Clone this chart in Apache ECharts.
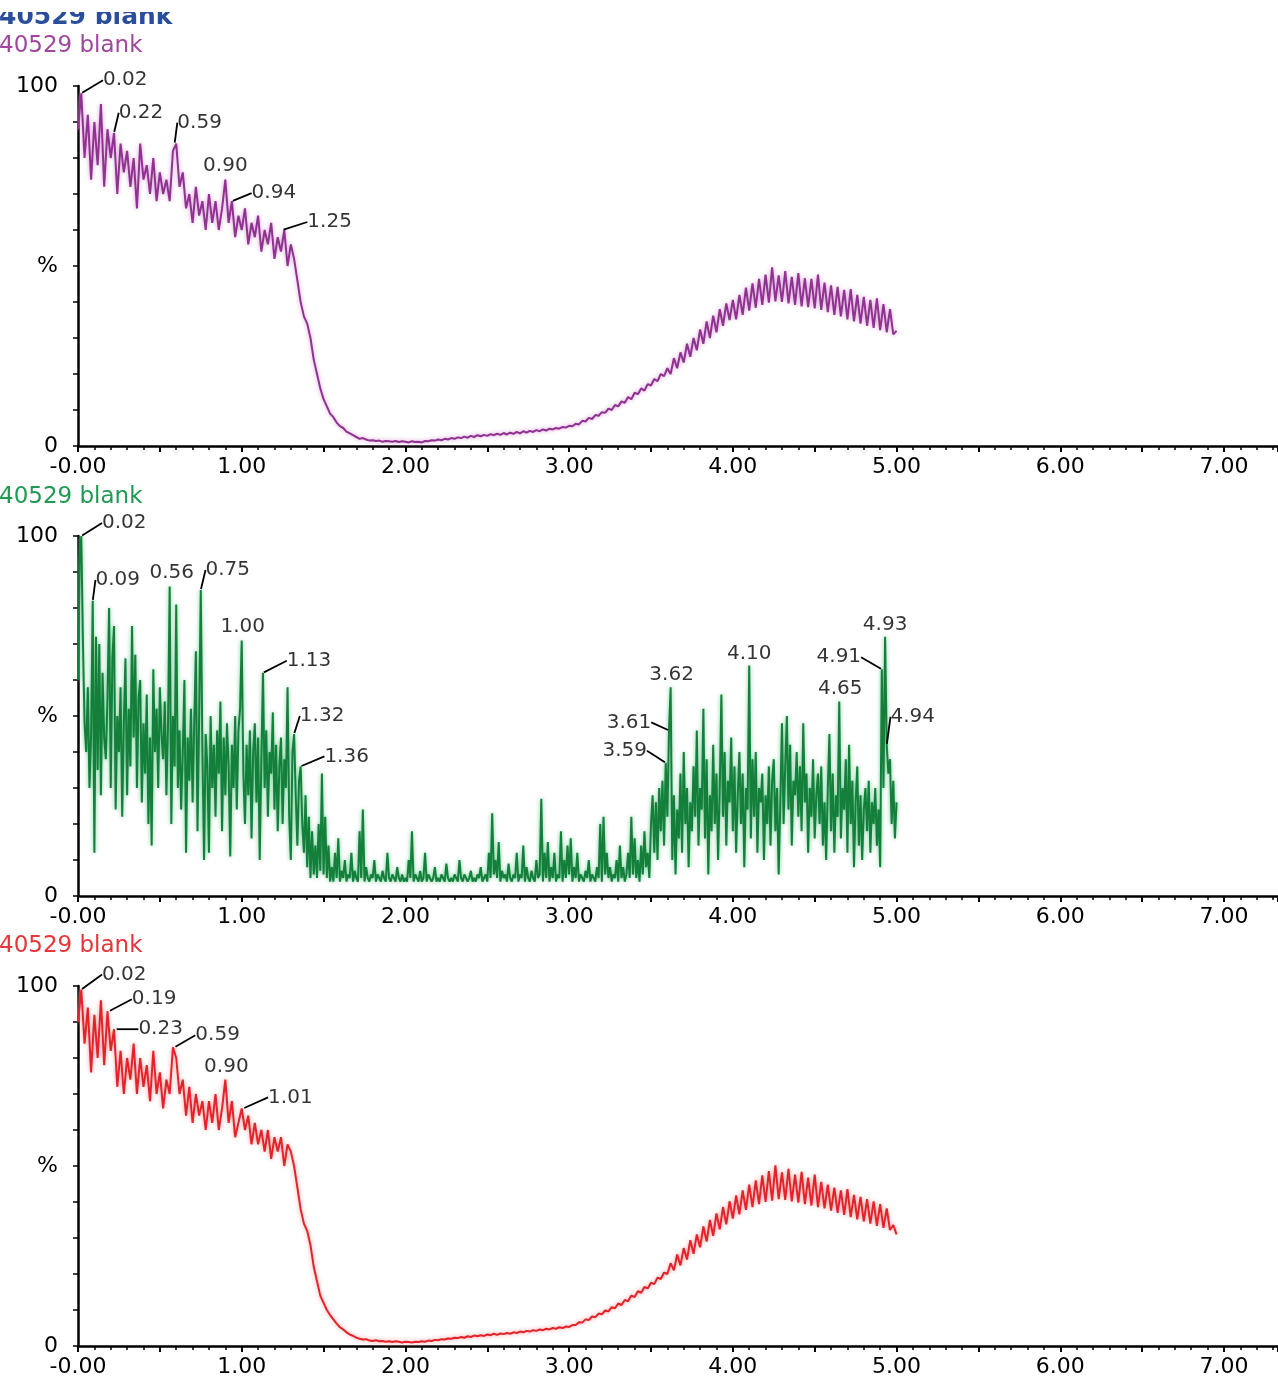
<!DOCTYPE html>
<html>
<head>
<meta charset="utf-8">
<script src="https://cdn.jsdelivr.net/npm/echarts@6/dist/echarts.min.js"></script>
<style>html,body{margin:0;padding:0;background:#fff}#c{width:1278px;height:1381px}</style>
</head>
<body>
<div id="c"></div>
<script>
// ---------- DATA ----------
const titleText = '40529 blank';
const xTickLabels = ['-0.00','1.00','2.00','3.00','4.00','5.00','6.00','7.00'];

// Purple trace (step 0.02 min, 0.00 .. 5.00)
const purpleStep = 0.02;
const purpleValues = [
 88,98,80,92,74,90,78,95,72,88,
 80,87,70,84,76,82,72,80,66,84,
 74,78,70,80,68,76,70,74,68,82,
 84,72,76,66,70,62,72,64,68,60,
 70,62,68,60,66,74,62,68,58,64,
 60,66,56,62,58,64,54,60,56,62,
 52,58,54,60,50,56,52,46,40,36,
 34,30,24,20,16,13,11,9,8,6.5,
 5.5,5,4,3.5,3,2.5,2,2.2,1.8,1.5,
 1.6,1.4,1.5,1.2,1.4,1.3,1.2,1.4,1.1,1.3,
 1.2,1.0,1.3,1.1,1.2,1.0,1.4,1.3,1.6,1.5,
 1.8,1.6,2.0,1.8,2.2,2.0,2.4,2.2,2.6,2.3,
 2.8,2.5,3.0,2.7,3.1,2.8,3.3,3.0,3.4,3.1,
 3.6,3.2,3.7,3.4,3.9,3.5,4.1,3.7,4.2,3.9,
 4.4,4.1,4.6,4.3,4.8,4.6,5.0,4.8,5.3,5.1,
 5.6,5.5,6.2,6.0,7.0,6.8,7.8,7.5,8.6,8.4,
 9.4,9.2,10.4,10.0,11.4,11.0,12.4,12.0,13.6,13.0,
 14.8,14.4,16.0,15.4,17.2,16.8,18.6,18.0,20.0,19.4,
 21.6,20.0,24.4,21.6,26.0,23.2,28.4,24.8,30.0,26.6,
 32.4,28.4,34.6,30.0,36.2,31.6,38.0,33.4,39.6,35.0,
 40.6,35.2,42.0,36.4,44.0,37.6,45.2,38.4,46.4,39.2,
 47.6,39.8,49.6,40.2,47.4,40.0,48.6,39.6,47.0,39.2,
 48.0,38.8,46.6,38.6,46.4,38.2,47.6,37.8,45.4,37.2,
 44.6,36.4,44.2,36.0,43.4,35.2,43.6,34.6,42.0,34.0,
 41.4,33.4,40.6,32.8,41.0,32.2,39.4,31.6,38.0,31.0,
 32.0
];
const purplePeakTimes  = [0.02, 0.22, 0.59, 0.90, 0.94, 1.25];
const purplePeakValues = [98, 87, 84, 74, 68, 60];

// Green trace (step 0.01 min, 0.00 .. 5.00)
const greenStep = 0.01;
const greenValues = [
 60,92,100,71,48,40,58,30,45,82,
 12,72,35,70,28,62,44,38,55,80,
 30,66,75,24,50,40,58,22,48,66,
 28,52,36,75,44,67,30,55,60,26,
 48,34,56,20,44,14,63,40,52,30,
 58,45,38,54,28,48,86,20,50,36,
 81,30,46,24,40,60,12,44,32,52,
 26,48,68,18,50,85,40,10,45,36,
 12,50,30,42,22,46,34,54,18,44,
 28,48,36,11,42,30,50,24,46,52,
 71,34,20,42,28,46,16,40,48,26,
 44,10,38,62,30,46,22,40,34,51,
 24,42,18,36,44,20,38,30,58,22,
 10,40,45,28,14,32,36,20,12,28,
 8,22,5,18,6,14,5,20,7,34,
 6,22,5,14,4,8,4,12,5,16,
 4,7,5,10,4,6,5,12,4,7,
 5,4,18,5,24,4,8,5,4,6,
 5,10,4,6,5,4,7,5,4,12,
 5,4,6,5,4,8,5,4,6,4,
 5,4,10,5,18,4,6,5,4,7,
 4,5,12,4,6,5,4,5,8,4,
 5,4,6,5,4,9,5,4,5,4,
 6,5,4,10,5,4,6,5,4,5,
 7,4,5,4,6,5,8,4,5,6,
 4,12,5,23,6,10,5,15,4,7,
 5,6,4,9,5,4,6,5,12,4,
 6,5,14,4,8,5,4,7,5,4,
 10,5,6,27,4,12,5,15,4,8,
 5,12,4,6,5,18,4,10,5,14,
 6,16,4,8,5,12,4,6,5,4,
 7,5,10,4,6,5,4,8,5,20,
 4,22,6,12,5,8,4,6,5,10,
 4,14,5,8,4,6,12,5,22,6,
 16,5,10,4,14,6,18,8,12,5,
 20,28,12,26,10,30,18,32,14,37,
 22,46,58,10,28,6,24,16,34,12,
 40,20,30,8,26,18,36,22,46,14,
 30,24,52,16,38,6,28,18,42,20,
 34,10,30,56,22,40,14,32,26,44,
 18,36,12,28,40,20,34,8,30,24,
 64,16,38,22,40,12,30,26,34,10,
 28,20,36,14,32,38,18,30,6,26,
 48,20,36,50,24,42,14,32,28,40,
 22,36,18,48,26,34,12,30,22,38,
 16,28,34,20,36,14,26,10,30,45,
 18,34,12,28,22,54,16,30,24,38,
 12,42,20,32,8,26,36,14,28,10,
 24,30,18,32,12,26,20,30,14,24,
 8,63,30,72,42,34,38,20,32,16,
 26
];
const greenPeakTimes  = [0.02, 0.09, 0.56, 0.75, 1.00, 1.13, 1.32, 1.36, 3.59, 3.61, 3.62, 4.10, 4.65, 4.91, 4.93, 4.94];
const greenPeakValues = [100, 82, 86, 85, 71, 62, 45, 36, 37, 46, 58, 64, 54, 63, 72, 42];

// Red trace (step 0.02 min, 0.00 .. 5.00)
const redStep = 0.02;
const redValues = [
 90,99,84,94,76,92,80,96,78,93,
 82,88,72,82,70,80,74,84,70,80,
 72,78,68,82,70,76,66,74,70,83,
 80,70,74,64,72,62,70,64,68,60,
 68,62,70,60,66,74,62,68,58,62,
 66,60,64,56,62,56,60,54,60,52,
 58,54,58,50,56,54,50,44,38,34,
 32,28,22,18,14,12,10,8.6,7.4,6.2,
 5.2,4.6,3.8,3.2,2.8,2.3,2.0,1.8,1.9,1.5,
 1.4,1.6,1.3,1.4,1.2,1.3,1.1,1.3,1.2,1.0,
 1.2,1.1,1.0,1.2,1.1,1.3,1.2,1.5,1.4,1.7,
 1.6,1.9,1.8,2.1,2.0,2.3,2.2,2.5,2.3,2.7,
 2.5,2.9,2.7,3.0,2.8,3.2,3.0,3.4,3.1,3.5,
 3.3,3.6,3.4,3.8,3.6,4.0,3.8,4.2,4.0,4.4,
 4.2,4.6,4.4,4.8,4.6,5.0,4.8,5.2,5.0,5.4,
 5.3,5.8,5.8,6.6,6.5,7.4,7.2,8.2,8.0,9.0,
 8.8,9.9,9.6,10.8,10.5,11.8,11.4,12.8,12.4,14.0,
 13.6,15.2,14.8,16.4,16.0,17.6,17.2,19.0,18.6,20.4,
 20.0,23.0,21.0,25.4,22.4,27.2,24.0,29.4,25.6,31.0,
 27.4,33.2,29.0,35.0,30.6,36.8,32.4,38.6,33.8,40.2,
 35.4,41.8,36.6,43.2,37.8,44.8,38.6,46.0,39.4,47.4,
 40.0,48.6,40.4,50.2,40.8,48.2,40.6,49.2,40.2,47.6,
 39.8,48.4,39.4,46.8,39.0,47.6,38.6,45.6,38.2,44.8,
 37.6,44.0,37.0,43.2,36.4,43.6,35.8,42.0,35.2,41.4,
 34.6,40.8,34.0,40.2,33.4,39.4,32.8,38.2,32.2,33.6,
 31.0
];
const redPeakTimes  = [0.02, 0.19, 0.23, 0.59, 0.90, 1.01];
const redPeakValues = [99, 93, 88, 83, 74, 66];

// ---------- STYLE (label offsets in px: dx, dy, leader line) ----------
const purpleLabelOffsets = [[44,-13,true],[27,-20,true],[25,-21,true],[0,-14,false],[42,-8,true],[47,-8,true]];
const greenLabelOffsets = [[43,-13,true],[25,-21,true],[2,-14,false],[27,-20,true],[1,-14,false],[46,-12,true],[28,-18,true],[46,-10,true],
  [-41,-12,true],[-40,-8,true],[1,-12,false],[0,-12,false],[1,-13,false],[-43,-12,true],[0,-12,false],[26,-28,true]];
const redLabelOffsets = [[43,-15,true],[45,-12,true],[45,0,true],[43,-12,true],[1,-13,false],[47,-11,true]];

const FONT = 'DejaVu Sans';
const panels = [
  {top: 86, values: purpleValues, step: purpleStep, color: '#8f3290', glow: '#d69ad4', times: purplePeakTimes, peaks: purplePeakValues, offs: purpleLabelOffsets, titleColor: '#a0479d', titleY: 46},
  {top: 536, values: greenValues, step: greenStep, color: '#137f3a', glow: '#6cc891', times: greenPeakTimes, peaks: greenPeakValues, offs: greenLabelOffsets, titleColor: '#1f9a52', titleY: 497},
  {top: 986, values: redValues, step: redStep, color: '#e3232b', glow: '#f39a9a', times: redPeakTimes, peaks: redPeakValues, offs: redLabelOffsets, titleColor: '#e8343a', titleY: 946}
];

const grids = [], xAxes = [], yAxes = [], series = [], graphics = [];
panels.forEach((p, i) => {
  grids.push({left: 78, right: 0, top: p.top, height: 360, containLabel: false});
  xAxes.push({
    type: 'value', gridIndex: i, min: 0, max: 7.33, interval: 0.5,
    axisLine: {show: true, onZero: false, lineStyle: {color: '#000', width: 2.5}},
    axisTick: {show: true, length: 6, lineStyle: {color: '#000', width: 2}},
    minorTick: {show: true, splitNumber: 5, length: 4, lineStyle: {color: '#000', width: 1.5}},
    splitLine: {show: false}, minorSplitLine: {show: false},
    axisLabel: {
      color: '#000', fontSize: 22, fontFamily: FONT, margin: 10,
      showMinLabel: true, showMaxLabel: false,
      formatter: v => {
        const r = Math.round(v);
        if (Math.abs(v - r) < 1e-6 && r >= 0 && r < xTickLabels.length) return xTickLabels[r];
        return '';
      }
    }
  });
  yAxes.push({
    type: 'value', gridIndex: i, min: 0, max: 100, interval: 10,
    axisLine: {show: true, lineStyle: {color: '#000', width: 2.5}},
    axisTick: {show: true, length: 5, lineStyle: {color: '#000', width: 1.5}},
    splitLine: {show: false},
    axisLabel: {
      color: '#000', fontSize: 22, fontFamily: FONT, margin: 20,
      formatter: v => v === 100 ? '100' : (v === 0 ? '0' : (v === 50 ? '%' : ''))
    }
  });
  series.push({
    type: 'line', xAxisIndex: i, yAxisIndex: i, symbol: 'none', silent: true,
    data: p.values.map((v, k) => [k * p.step, v]),
    lineStyle: {color: p.color, width: 2, shadowColor: p.glow, shadowBlur: 4}, z: 2
  });
  const offs = p.offs;
  series.push({
    type: 'scatter', xAxisIndex: i, yAxisIndex: i, symbolSize: 2, silent: true, z: 5,
    itemStyle: {color: 'rgba(0,0,0,0)'},
    data: p.times.map((t, k) => ({value: [t, p.peaks[k]], labelLine: {show: offs[k][2]}})),
    label: {
      show: true, position: 'inside', color: '#000', fontSize: 20, fontFamily: FONT,
      textBorderWidth: 0, formatter: q => q.value[0].toFixed(2)
    },
    labelLine: {show: true, lineStyle: {color: '#000', width: 1.8}},
    labelLayout: q => ({dx: offs[q.dataIndex][0], dy: offs[q.dataIndex][1]})
  });
  graphics.push({
    type: 'text', x: -1, y: p.titleY, z: 10,
    style: {text: titleText, fill: p.titleColor, font: '23px "' + FONT + '"', verticalAlign: 'middle'}
  });
});
graphics.push({
  type: 'text', x: -1, y: 30, z: 10,
  style: {text: titleText, fill: '#2a4d9c', font: 'bold 25px "' + FONT + '"', verticalAlign: 'bottom'}
});
graphics.push({
  type: 'rect', z: 11, shape: {x: 0, y: 0, width: 320, height: 12}, style: {fill: '#fff'}
});

const chart = echarts.init(document.getElementById('c'));
chart.setOption({
  animation: false,
  backgroundColor: '#fff',
  grid: grids, xAxis: xAxes, yAxis: yAxes, series: series, graphic: graphics
});
</script>
</body>
</html>
